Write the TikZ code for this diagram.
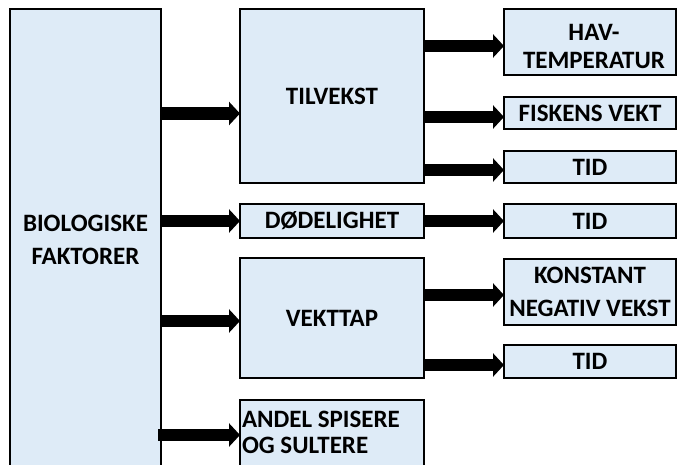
\documentclass[tikz,border=0pt]{standalone}
\usepackage{fontspec}
\setmainfont{Carlito}
\usetikzlibrary{arrows.meta,calc}
\definecolor{boxfill}{HTML}{DEEBF7}
\tikzset{
  box/.style={draw=black, fill=boxfill, line width=2.4pt, inner sep=0pt, outer sep=0pt,
    font=\bfseries\fontsize{25}{33}\selectfont, align=center},
  txt/.style={inner sep=0pt, outer sep=0pt, font=\bfseries\fontsize{25}{26}\selectfont},
  flow/.style={line width=12.5pt, -{Triangle[length=11pt,width=23pt]}},
}
\begin{document}
\begin{tikzpicture}[x=1pt,y=-1pt]
\useasboundingbox (0,0) rectangle (677,465);
\clip (0,0) rectangle (677,465);

% left column
\node[box, minimum width=151pt, minimum height=462pt] (bio) at (85.5,240) {BIOLOGISKE\\FAKTORER};

% middle column
\node[box, minimum width=184pt, minimum height=174pt] (til) at (332,96) {TILVEKST};
\node[box, minimum width=184pt, minimum height=34pt] (dod) at (332,221) {DØDELIGHET};
\node[box, minimum width=184pt, minimum height=120pt] (vek) at (332,318) {VEKTTAP};
\node[box, minimum width=184pt, minimum height=80pt] (andel) at (332,440) {};
\node[txt, anchor=west, align=left] (andeltxt) at (242,432) {ANDEL SPISERE\\OG SULTERE};

% right column
\node[box, minimum width=172pt, minimum height=66pt] (hav) at (590,42) {};
\node[txt, align=center, font=\bfseries\fontsize{25}{28}\selectfont] (havtxt) at (594,46.5) {HAV-\\TEMPERATUR};
\node[box, minimum width=172pt, minimum height=32pt] (fis) at (590,113) {FISKENS VEKT};
\node[box, minimum width=172pt, minimum height=32pt] (tid1) at (590,167) {TID};
\node[box, minimum width=172pt, minimum height=34pt] (tid2) at (590,221) {TID};
\node[box, minimum width=172pt, minimum height=66pt] (kon) at (590,292) {KONSTANT\\NEGATIV VEKST};
\node[box, minimum width=172pt, minimum height=33pt] (tid3) at (590,361.5) {TID};

% arrows from the factors box
\draw[flow] ([yshift=-17.5pt]til.west -| bio.east) -- ([yshift=-17.5pt]til.west);
\draw[flow] (dod.west -| bio.east) -- (dod.west);
\draw[flow] ([yshift=-3pt]vek.west -| bio.east) -- ([yshift=-3pt]vek.west);
\draw[flow] ($(andel.west -| bio.east)+(-3,-5)$) -- ([yshift=5pt]andel.west);

% arrows to the parameters
\draw[flow] ([yshift=-4pt]hav.west -| til.east) -- ([yshift=-4pt]hav.west);
\draw[flow] ([yshift=-4pt]fis.west -| til.east) -- ([yshift=-4pt]fis.west);
\draw[flow] ([yshift=-3pt]tid1.west -| til.east) -- ([yshift=-3pt]tid1.west);
\draw[flow] (tid2.west -| dod.east) -- (tid2.west);
\draw[flow] ([yshift=-3pt]kon.west -| vek.east) -- ([yshift=-3pt]kon.west);
\draw[flow] ([yshift=-3.5pt]tid3.west -| vek.east) -- ([yshift=-3.5pt]tid3.west);
\end{tikzpicture}
\end{document}
